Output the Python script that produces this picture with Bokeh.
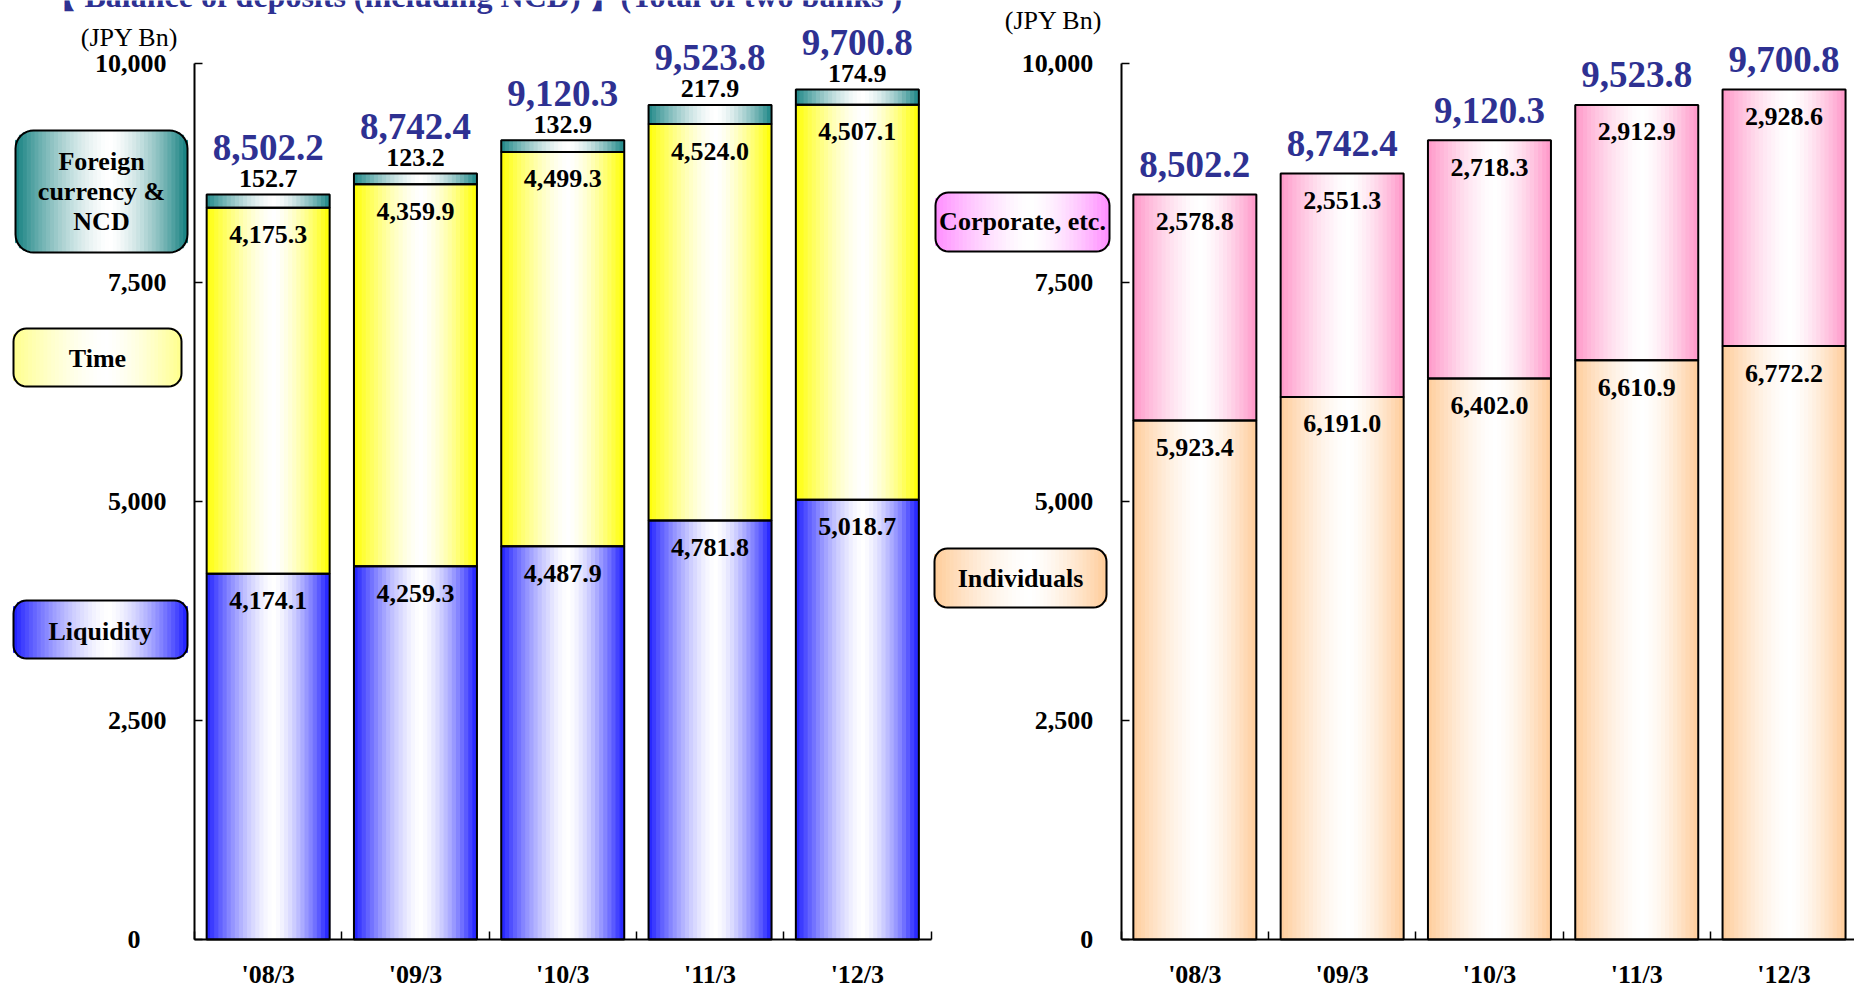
import math
from bokeh.plotting import figure
from bokeh.models import Range1d, LinearAxis, FixedTicker, NumeralTickFormatter, ColumnDataSource
from bokeh.core.properties import value
from bokeh.embed import file_html
from bokeh.resources import INLINE

# ---------------- data ----------------
periods = ["'08/3", "'09/3", "'10/3", "'11/3", "'12/3"]
liquidity = [4174.1, 4259.3, 4487.9, 4781.8, 5018.7]
time_dep = [4175.3, 4359.9, 4499.3, 4524.0, 4507.1]
foreign_ncd = [152.7, 123.2, 132.9, 217.9, 174.9]
totals = [8502.2, 8742.4, 9120.3, 9523.8, 9700.8]
individuals = [5923.4, 6191.0, 6402.0, 6610.9, 6772.2]
corporate = [2578.8, 2551.3, 2718.3, 2912.9, 2928.6]
y_ticks = [0, 2500, 5000, 7500, 10000]
title_text = "【 Balance of deposits (including NCD) 】(Total of two banks )"
unit_label = "(JPY Bn)"

# ---------------- layout constants (pixels) ----------------
W, H = 1854, 990
X0 = 194.0          # pixel x of left y-axis
CW = 147.3          # pixels per category
Y0 = 939.0          # pixel y of value 0
PPU = 876.3 / 10000  # pixels per unit
RIGHT_OFF = (1120.7 - X0) / CW
BAR_W = 0.835

FONT = value("Liberation Serif")
NAVY = "#2E3192"


def dx(px):
    return (px - X0) / CW


def dy(py):
    return (Y0 - py) / PPU


p = figure(width=W, height=H, min_border=0, toolbar_location=None,
           output_backend="svg", x_axis_type=None, y_axis_type=None,
           x_range=Range1d(dx(0), dx(W)), y_range=Range1d(dy(H), dy(0)))
p.outline_line_color = None
p.background_fill_color = "white"
p.border_fill_color = "white"


def mix(rgb, f):
    r, g, b = rgb
    return "#%02x%02x%02x" % (round(r + (255 - r) * f), round(g + (255 - g) * f), round(b + (255 - b) * f))


def white_frac(t, peak=0.55, power=1.5):
    if t < peak:
        d = (peak - t) / peak
    else:
        d = (t - peak) / (1 - peak)
    return max(0.0, 1 - d ** power)


strips = dict(left=[], right=[], bottom=[], top=[], color=[])
outlines = dict(left=[], right=[], bottom=[], top=[])


def gradient_bar(x0, x1, y0, y1, rgb, n=30):
    for k in range(n):
        t0, t1 = k / n, (k + 1) / n
        c = mix(rgb, white_frac((t0 + t1) / 2))
        strips["left"].append(x0 + (x1 - x0) * t0)
        strips["right"].append(x0 + (x1 - x0) * t1)
        strips["bottom"].append(y0)
        strips["top"].append(y1)
        strips["color"].append(c)
    outlines["left"].append(x0)
    outlines["right"].append(x1)
    outlines["bottom"].append(y0)
    outlines["top"].append(y1)


BLUE = (30, 30, 255)
YELLOW = (255, 255, 0)
TEAL = (30, 135, 135)
PINK = (255, 150, 200)
PEACH = (255, 204, 153)

seg_lab = dict(x=[], y=[], text=[])
above_lab = dict(x=[], y=[], text=[])
total_lab = dict(x=[], y=[], text=[])

# left panel: stacked deposits by type
for i in range(5):
    xc = i + 0.5
    x0, x1 = xc - BAR_W / 2, xc + BAR_W / 2
    b = 0.0
    for vals, col in ((liquidity, BLUE), (time_dep, YELLOW), (foreign_ncd, TEAL)):
        v = vals[i]
        gradient_bar(x0, x1, b, b + v, col)
        b += v
    top = b
    seg_lab["x"] += [xc, xc]
    seg_lab["y"] += [liquidity[i] - 27 / PPU, liquidity[i] + time_dep[i] - 27 / PPU]
    seg_lab["text"] += ["{:,.1f}".format(liquidity[i]), "{:,.1f}".format(time_dep[i])]
    above_lab["x"].append(xc)
    above_lab["y"].append(top + 16 / PPU)
    above_lab["text"].append("{:,.1f}".format(foreign_ncd[i]))
    total_lab["x"].append(xc)
    total_lab["y"].append(top + 47 / PPU)
    total_lab["text"].append("{:,.1f}".format(totals[i]))

# right panel: stacked deposits by holder
for i in range(5):
    xc = RIGHT_OFF + i + 0.5
    x0, x1 = xc - BAR_W / 2, xc + BAR_W / 2
    gradient_bar(x0, x1, 0, individuals[i], PEACH)
    gradient_bar(x0, x1, individuals[i], individuals[i] + corporate[i], PINK)
    top = individuals[i] + corporate[i]
    seg_lab["x"] += [xc, xc]
    seg_lab["y"] += [individuals[i] - 27 / PPU, top - 27 / PPU]
    seg_lab["text"] += ["{:,.1f}".format(individuals[i]), "{:,.1f}".format(corporate[i])]
    total_lab["x"].append(xc)
    total_lab["y"].append(top + 30 / PPU)
    total_lab["text"].append("{:,.1f}".format(totals[i]))

# ---------------- legend boxes (pixel geometry) ----------------
leg_strips = dict(left=[], right=[], bottom=[], top=[], color=[])
leg_outline_xs, leg_outline_ys = [], []


def legend_box(px0, px1, py0, py1, rgb, r=13, n=44, peak=0.55, power=1.5):
    w = px1 - px0
    for k in range(n):
        a, bb = px0 + w * k / n, px0 + w * (k + 1) / n
        m = (a + bb) / 2
        dist = min(m - px0, px1 - m)
        inset = 0.0
        if dist < r:
            inset = r - math.sqrt(max(0.0, r * r - (r - dist) ** 2))
        c = mix(rgb, white_frac((m - px0) / w, peak, power))
        leg_strips["left"].append(dx(a))
        leg_strips["right"].append(dx(bb))
        leg_strips["top"].append(dy(py0 + inset))
        leg_strips["bottom"].append(dy(py1 - inset))
        leg_strips["color"].append(c)
    xs, ys = [], []
    corners = [(px1 - r, py0 + r, -90, 0), (px1 - r, py1 - r, 0, 90),
               (px0 + r, py1 - r, 90, 180), (px0 + r, py0 + r, 180, 270)]
    for cx, cy, a0, a1 in corners:
        for j in range(9):
            ang = math.radians(a0 + (a1 - a0) * j / 8)
            xs.append(dx(cx + r * math.cos(ang)))
            ys.append(dy(cy + r * math.sin(ang)))
    leg_outline_xs.append(xs)
    leg_outline_ys.append(ys)


legend_box(15, 187, 130, 252, (20, 128, 128), r=18)
legend_box(13, 181, 328, 386, (255, 255, 140))
legend_box(13, 187, 600, 658, BLUE)
legend_box(935, 1109, 192, 251, (255, 140, 255))
legend_box(934, 1106, 548, 607, PEACH)

leg_text = dict(x=[dx(101), dx(101), dx(101), dx(97), dx(100), dx(1022), dx(1020)],
                y=[dy(161), dy(191), dy(221), dy(358), dy(631), dy(221), dy(578)],
                text=["Foreign", "currency &", "NCD", "Time", "Liquidity", "Corporate, etc.", "Individuals"])

# ---------------- draw ----------------
p.quad(left="left", right="right", bottom="bottom", top="top", source=ColumnDataSource(strips),
       fill_color="color", line_color="color", line_width=1)
p.quad(left="left", right="right", bottom="bottom", top="top", source=ColumnDataSource(outlines),
       fill_color=None, line_color="black", line_width=2)

p.quad(left="left", right="right", bottom="bottom", top="top", source=ColumnDataSource(leg_strips),
       fill_color="color", line_color="color", line_width=1)
p.patches(xs=leg_outline_xs, ys=leg_outline_ys, fill_color=None, line_color="black", line_width=2)


def add_text(src, size, color="black", style="bold", align="center", baseline="middle"):
    p.text(x="x", y="y", text="text", source=ColumnDataSource(src), text_font=FONT,
           text_font_size=size, text_font_style=style, text_color=color,
           text_align=align, text_baseline=baseline)


add_text(seg_lab, "26px")
add_text(above_lab, "26px")
add_text(total_lab, "37px", color=NAVY)
add_text(leg_text, "26px")
add_text(dict(x=[dx(129), dx(1053)], y=[dy(37), dy(20)], text=[unit_label, unit_label]),
         "26px", style="normal")
add_text(dict(x=[dx(44)], y=[dy(-5)], text=[title_text]), "32px", color=NAVY,
         align="left", baseline="alphabetic")


# ---------------- axes ----------------
def style_axis(ax):
    ax.axis_line_color = "black"
    ax.axis_line_width = 2
    ax.major_tick_line_color = "black"
    ax.major_tick_line_width = 1.5
    ax.minor_tick_line_color = "black"
    ax.minor_tick_line_width = 1.5
    ax.major_label_text_font = "Liberation Serif"
    ax.major_label_text_font_size = "26px"
    ax.major_label_text_font_style = "bold"
    ax.major_label_text_color = "black"


for off in (0.0, RIGHT_OFF):
    ya = LinearAxis(fixed_location=off, bounds=(0, 10000),
                    ticker=FixedTicker(ticks=y_ticks, minor_ticks=[]),
                    formatter=NumeralTickFormatter(format="0,0"))
    style_axis(ya)
    ya.major_tick_in = 8
    ya.major_tick_out = 0
    ya.minor_tick_in = 0
    ya.minor_tick_out = 0
    ya.major_label_standoff = 28
    if off == 0.0:
        ya.major_label_overrides = {0: "0\u2007\u2007"}
    p.add_layout(ya, "left")

    centers = [off + i + 0.5 for i in range(len(periods))]
    bounds_t = [off + i for i in range(len(periods) + 1)]
    xa = LinearAxis(fixed_location=0, bounds=(off, off + len(periods)),
                    ticker=FixedTicker(ticks=centers, minor_ticks=bounds_t))
    style_axis(xa)
    xa.major_label_overrides = {c: lab for c, lab in zip(centers, periods)}
    xa.major_tick_in = 0
    xa.major_tick_out = 0
    xa.minor_tick_in = 8
    xa.minor_tick_out = 0
    xa.major_label_standoff = 20
    p.add_layout(xa, "below")

open("out.html", "w").write(file_html(p, INLINE))
